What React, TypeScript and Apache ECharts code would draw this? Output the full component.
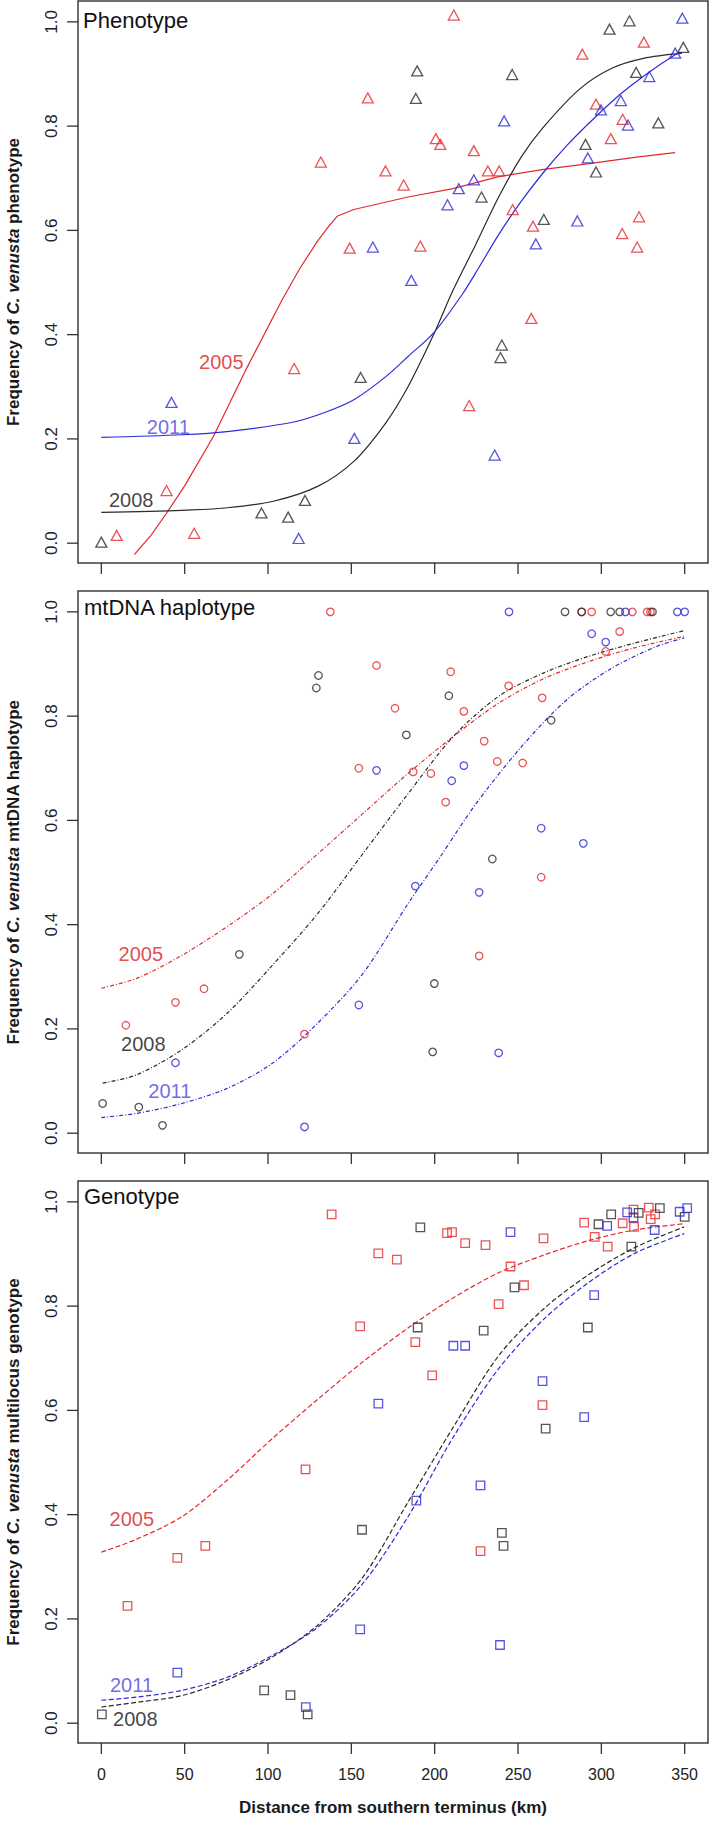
import React, { useEffect, useRef } from "react";
import * as echarts from "echarts";

// ---------- axes ----------
const xTickValues = [0, 50, 100, 150, 200, 250, 300, 350];
const yTickValues = [0, 0.2, 0.4, 0.6, 0.8, 1.0];

// ---------- Phenotype (triangles, solid fits) ----------
const phenotype2005Points = [
  [211.5, 1.013], [159.9, 0.854], [131.7, 0.731], [170.5, 0.714], [181.4, 0.687], [200.7, 0.776],
  [203.4, 0.765], [223.5, 0.753], [231.9, 0.714], [238.7, 0.714], [246.8, 0.64], [259, 0.608],
  [149, 0.566], [191.4, 0.57], [288.6, 0.938], [296.8, 0.842], [305.7, 0.776], [312.8, 0.813],
  [325.5, 0.961], [312.5, 0.594], [322.6, 0.626], [321.5, 0.568], [115.7, 0.335], [39.1, 0.101],
  [9.2, 0.015], [55.7, 0.019], [220.7, 0.264], [258, 0.431],
];
const phenotype2008Points = [
  [189.5, 0.906], [188.7, 0.853], [246.5, 0.899], [228.1, 0.664], [265.5, 0.621], [304.9, 0.986],
  [316.9, 1.002], [349.2, 0.951], [320.9, 0.903], [290.5, 0.765], [296.8, 0.712], [334.2, 0.806],
  [0, 0.002], [96.1, 0.058], [112.1, 0.05], [122.2, 0.082], [155.6, 0.318], [240.3, 0.38], [239.5, 0.356],
];
const phenotype2011Points = [
  [348.6, 1.007], [344.3, 0.94], [328.8, 0.895], [311.7, 0.849], [299.8, 0.831], [316, 0.802],
  [291.9, 0.739], [241.7, 0.81], [223.5, 0.697], [214.5, 0.68], [207.7, 0.649], [260.7, 0.574],
  [285.6, 0.618], [162.9, 0.568], [186, 0.504], [42.1, 0.27], [151.8, 0.201], [118.4, 0.009], [236, 0.169],
];
const phenotype2005Fit = [
  [19.8, -0.022], [30, 0.016], [38.8, 0.056], [50, 0.11], [67.3, 0.205], [86.3, 0.33],
  [108, 0.464], [118.9, 0.526], [129.8, 0.58], [137, 0.61], [141.5, 0.627], [151.5, 0.64],
  [184, 0.664], [211, 0.68], [238.4, 0.703], [265.5, 0.717], [292.7, 0.728], [319.9, 0.74], [344.3, 0.749],
];
const phenotype2008Fit = [
  [0, 0.059], [48.3, 0.063], [75.5, 0.068], [102.6, 0.08], [129.8, 0.109], [151.5, 0.157],
  [170.5, 0.23], [184, 0.3], [199.8, 0.403], [211, 0.485], [224.8, 0.574], [238.4, 0.664],
  [252, 0.741], [265.5, 0.799], [287.3, 0.872], [306.3, 0.911], [325.3, 0.93], [348.4, 0.94],
];
const phenotype2011Fit = [
  [0, 0.203], [48.3, 0.208], [75.5, 0.214], [116.2, 0.233], [135.2, 0.252], [151.5, 0.275],
  [170.5, 0.319], [184, 0.358], [199.8, 0.405], [216.7, 0.478], [226.2, 0.527], [238.4, 0.592],
  [252, 0.656], [265.5, 0.712], [279.1, 0.762], [292.7, 0.806], [311.7, 0.862], [328, 0.902],
  [344.3, 0.937], [348.5, 0.943],
];

// ---------- mtDNA haplotype (circles, dot-dash fits) ----------
const mtdna2005Points = [
  [137.4, 1.0], [288.2, 1.0], [294.2, 1.0], [318.6, 1.0], [327.5, 1.0], [329.5, 1.0], [311, 0.962],
  [302.6, 0.924], [165.1, 0.897], [209.6, 0.885], [176.2, 0.815], [217.5, 0.809], [244.4, 0.858],
  [264.5, 0.835], [154.5, 0.7], [187.1, 0.693], [197.7, 0.69], [229.7, 0.752], [237.6, 0.713],
  [252.8, 0.71], [206.6, 0.635], [263.9, 0.491], [226.7, 0.34], [61.6, 0.277], [44.5, 0.251],
  [14.7, 0.207], [121.9, 0.19],
];
const mtdna2008Points = [
  [278.2, 1.0], [288.2, 1.0], [305.6, 1.0], [311, 1.0], [330.7, 1.0], [130.3, 0.878], [129, 0.854],
  [183, 0.764], [208.5, 0.839], [269.9, 0.792], [234.6, 0.526], [82.8, 0.343], [199.8, 0.287],
  [198.8, 0.156], [0.8, 0.057], [22.5, 0.05], [36.7, 0.015],
];
const mtdna2011Points = [
  [244.6, 1.0], [314.5, 1.0], [345.6, 1.0], [350, 1.0], [294.2, 0.958], [302.6, 0.942], [165.1, 0.696],
  [217.5, 0.705], [210.2, 0.676], [263.9, 0.585], [289.2, 0.556], [188.4, 0.474], [226.7, 0.462],
  [154.5, 0.246], [238.4, 0.154], [44.5, 0.135], [121.9, 0.012],
];
const mtdna2005Fit = [
  [0, 0.278], [21.2, 0.297], [48.3, 0.341], [80.9, 0.408], [102.6, 0.459], [124.3, 0.52],
  [156.9, 0.613], [184, 0.69], [211.2, 0.761], [238.4, 0.825], [265.5, 0.872], [292.7, 0.905],
  [319.9, 0.931], [349.7, 0.953],
];
const mtdna2008Fit = [
  [0.8, 0.096], [21.2, 0.112], [48.3, 0.16], [75.5, 0.23], [102.6, 0.322], [129.8, 0.421],
  [156.9, 0.536], [184, 0.651], [211.2, 0.761], [238.4, 0.838], [265.5, 0.883], [292.7, 0.915],
  [319.9, 0.94], [349.7, 0.964],
];
const mtdna2011Fit = [
  [0, 0.03], [21.2, 0.038], [48.3, 0.057], [75.5, 0.086], [102.6, 0.134], [129.8, 0.211],
  [156.9, 0.306], [184, 0.44], [203.1, 0.529], [224.8, 0.632], [252, 0.741], [279.1, 0.831],
  [306.3, 0.892], [333.4, 0.934], [349.7, 0.95],
];

// ---------- Multilocus genotype (squares, dashed fits) ----------
const genotype2005Points = [
  [138.2, 0.976], [207.4, 0.94], [210.4, 0.942], [218.3, 0.921], [230.5, 0.917], [265.3, 0.93],
  [166.2, 0.901], [177.3, 0.889], [245.5, 0.876], [253.6, 0.84], [238.4, 0.804], [155.3, 0.761],
  [188.4, 0.731], [198.5, 0.667], [264.7, 0.61], [122.5, 0.487], [289.7, 0.96], [296, 0.933],
  [303.8, 0.914], [312.8, 0.959], [319.3, 0.985], [319.6, 0.952], [328.5, 0.989], [329.6, 0.967],
  [332.3, 0.976], [227.5, 0.33], [62.4, 0.34], [45.6, 0.317], [15.7, 0.225],
];
const genotype2008Points = [
  [191.4, 0.951], [298.3, 0.957], [305.9, 0.976], [322.4, 0.979], [335.1, 0.988], [350, 0.971],
  [318, 0.914], [247.9, 0.836], [189.8, 0.759], [229.4, 0.753], [291.9, 0.759], [266.6, 0.565],
  [156.4, 0.371], [240.3, 0.365], [241.3, 0.34], [97.7, 0.063], [113.5, 0.054], [123.8, 0.017], [0.3, 0.017],
];
const genotype2011Points = [
  [351.5, 0.988], [347, 0.981], [315.5, 0.98], [319.3, 0.97], [303.5, 0.954], [332, 0.946],
  [245.5, 0.942], [295.7, 0.821], [211.2, 0.724], [218.3, 0.724], [264.7, 0.656], [166.2, 0.613],
  [289.7, 0.587], [227.5, 0.456], [189, 0.427], [155.3, 0.18], [239.2, 0.15], [45.6, 0.097], [122.7, 0.031],
];
const genotype2005Fit = [
  [0, 0.328], [21.2, 0.353], [48.3, 0.396], [75.5, 0.466], [102.6, 0.546], [129.8, 0.621],
  [156.9, 0.693], [184, 0.758], [211.2, 0.816], [238.4, 0.864], [265.5, 0.898], [292.7, 0.926],
  [319.9, 0.946], [349.7, 0.958],
];
const genotype2008Fit = [
  [0, 0.031], [21.2, 0.04], [48.3, 0.053], [75.5, 0.083], [102.6, 0.127], [129.8, 0.188],
  [156.9, 0.28], [184, 0.424], [211.2, 0.568], [238.4, 0.705], [265.5, 0.795], [292.7, 0.861],
  [319.9, 0.912], [349.7, 0.952],
];
const genotype2011Fit = [
  [0, 0.044], [21.2, 0.05], [48.3, 0.063], [75.5, 0.088], [102.6, 0.13], [129.8, 0.184],
  [156.9, 0.268], [184, 0.396], [211.2, 0.549], [238.4, 0.68], [265.5, 0.775], [292.7, 0.846],
  [319.9, 0.901], [349.7, 0.939],
];

// ---------- year annotations (data coordinates) ----------
const phenotypeYearLabels = [
  ["2005", 72, 0.347], ["2011", 40.2, 0.223], ["2008", 17.9, 0.082],
];
const mtdnaYearLabels = [
  ["2005", 23.7, 0.344], ["2008", 25.2, 0.171], ["2011", 41.1, 0.08],
];
const genotypeYearLabels = [
  ["2005", 18.3, 0.391], ["2011", 18.1, 0.074], ["2008", 20.4, 0.008],
];

const panelTitles = ["Phenotype", "mtDNA haplotype", "Genotype"];
const yTitles = [
  "Frequency of {i|C. venusta} phenotype",
  "Frequency of {i|C. venusta} mtDNA haplotype",
  "Frequency of {i|C. venusta} multilocus genotype",
];
const xTitle = "Distance from southern terminus (km)";

const FONT = '"Liberation Sans", Arial, Helvetica, sans-serif';
const RED = "#e4292c";
const BLUE = "#2b2bd8";
const BLACK = "#2a2a2a";
const yearColor: Record<string, string> = { "2005": "#d91c1f", "2011": "#4848e0", "2008": "#111111" };

// plot-box extents (R-style 4% padding)
const X_MIN = -14;
const X_MAX = 364;
const Y_MIN = -0.038;
const Y_MAX = 1.04;

export default function App() {
  const ref = useRef<HTMLDivElement>(null);

  useEffect(() => {
    document.body.style.margin = "0";
    if (!ref.current) return;
    const chart = echarts.init(ref.current, null, { renderer: "svg" });

    const boxLeft = 78;
    const boxW = 630;
    const boxH = 562;
    const tops = [1, 591, 1181];
    const TICK_LEN = 11;
    const tickColor = "#333";

    const titleY = [20, 607, 1196];
    const titleX = [83, 84, 84];

    const panels = [
      {
        symbol: "triangle", size: [11, 10], dash: "solid" as any, smoothFit: [false, 0.3, 0.3] as any[],
        pts: [phenotype2005Points, phenotype2008Points, phenotype2011Points],
        fits: [phenotype2005Fit, phenotype2008Fit, phenotype2011Fit],
        labels: phenotypeYearLabels,
      },
      {
        symbol: "circle", size: [7.5, 7.5], dash: [4, 2, 1, 2], smoothFit: [0.3, 0.3, 0.3],
        pts: [mtdna2005Points, mtdna2008Points, mtdna2011Points],
        fits: [mtdna2005Fit, mtdna2008Fit, mtdna2011Fit],
        labels: mtdnaYearLabels,
      },
      {
        symbol: "rect", size: [8.5, 8.5], dash: [5, 2.5], smoothFit: [0.3, 0.3, 0.3],
        pts: [genotype2005Points, genotype2008Points, genotype2011Points],
        fits: [genotype2005Fit, genotype2008Fit, genotype2011Fit],
        labels: genotypeYearLabels,
      },
    ];
    const colors = [RED, BLACK, BLUE];

    const series: any[] = [];
    panels.forEach((p, i) => {
      p.fits.forEach((f, k) => {
        series.push({
          type: "line", xAxisIndex: i, yAxisIndex: i, data: f, symbol: "none", showSymbol: false,
          smooth: p.smoothFit[k], silent: true, z: 2,
          lineStyle: { color: colors[k], width: 1.2, type: p.dash },
        });
      });
      p.pts.forEach((d, k) => {
        series.push({
          type: "scatter", xAxisIndex: i, yAxisIndex: i, data: d, symbol: p.symbol, symbolSize: p.size,
          silent: true, z: 3,
          itemStyle: { color: "rgba(0,0,0,0)", borderColor: colors[k], borderWidth: 1.3 },
        });
      });
      series.push({
        type: "scatter", xAxisIndex: i, yAxisIndex: i, symbol: "circle", symbolSize: 0.1, silent: true, z: 4,
        itemStyle: { color: "rgba(0,0,0,0)" },
        data: p.labels.map((l) => ({
          name: l[0], value: [l[1], l[2]],
          label: { color: yearColor[l[0] as string] },
        })),
        label: {
          show: true, position: "inside", formatter: "{b}", fontSize: 20, fontFamily: FONT,
        },
      });
      // outward tick marks on the bottom edge (x) and left edge (y), placed by the axis scales
      series.push({
        type: "custom", xAxisIndex: i, yAxisIndex: i, clip: false, silent: true, z: 6,
        data: xTickValues.map((v) => [v, Y_MIN]),
        renderItem: (_params: any, api: any) => {
          const c = api.coord([api.value(0), api.value(1)]);
          return {
            type: "line",
            shape: { x1: c[0], y1: c[1], x2: c[0], y2: c[1] + TICK_LEN },
            style: { stroke: tickColor, lineWidth: 1.3 },
          };
        },
      });
      series.push({
        type: "custom", xAxisIndex: i, yAxisIndex: i, clip: false, silent: true, z: 6,
        data: yTickValues.map((v) => [X_MIN, v]),
        renderItem: (_params: any, api: any) => {
          const c = api.coord([api.value(0), api.value(1)]);
          return {
            type: "line",
            shape: { x1: c[0], y1: c[1], x2: c[0] - TICK_LEN, y2: c[1] },
            style: { stroke: tickColor, lineWidth: 1.3 },
          };
        },
      });
    });

    const grids = tops.map((t) => ({
      left: boxLeft, top: t, width: boxW, height: boxH, show: true,
      borderColor: "#3c3c3c", borderWidth: 1.5, backgroundColor: "rgba(0,0,0,0)",
      containLabel: false, outerBoundsMode: "none",
    }));

    const option: any = {
      animation: false,
      backgroundColor: "#ffffff",
      grid: grids,
      xAxis: tops.map((_, i) => ({
        type: "value", gridIndex: i, min: X_MIN, max: X_MAX, position: "bottom",
        axisLine: { show: false, onZero: false }, splitLine: { show: false },
        axisTick: { show: false },
        axisLabel: {
          show: i === 2, customValues: xTickValues, fontSize: 16, color: "#222", margin: 23, fontFamily: FONT,
        },
        name: i === 2 ? xTitle : "",
        nameLocation: "middle", nameGap: 56,
        nameTextStyle: { fontSize: 17, fontWeight: "bold", color: "#1a1a1a", fontFamily: FONT },
      })),
      yAxis: tops.map((_, i) => ({
        type: "value", gridIndex: i, min: Y_MIN, max: Y_MAX, position: "left",
        axisLine: { show: false, onZero: false }, splitLine: { show: false },
        axisTick: { show: false },
        axisLabel: {
          show: true, customValues: yTickValues, rotate: 90, fontSize: 17, color: "#222", margin: 27,
          align: "center", verticalAlign: "middle", fontFamily: FONT,
          formatter: (v: number) => v.toFixed(1),
        },
        name: yTitles[i], nameLocation: "middle", nameRotate: 90, nameGap: 56,
        nameTextStyle: {
          fontSize: 17, fontWeight: "bold", color: "#1a1a1a", fontFamily: FONT,
          rich: { i: { fontSize: 17, fontWeight: "bold", fontStyle: "italic", color: "#1a1a1a", fontFamily: FONT } },
        },
      })),
      graphic: panelTitles.map((t, i) => ({
        type: "text", x: titleX[i], y: titleY[i], silent: true, z: 10,
        style: { text: t, fontSize: 22, fill: "#111", fontFamily: FONT, verticalAlign: "middle", align: "left" },
      })),
      series,
    };

    chart.setOption(option);
    return () => chart.dispose();
  }, []);

  return <div ref={ref} style={{ width: 709, height: 1821 }} />;
}
